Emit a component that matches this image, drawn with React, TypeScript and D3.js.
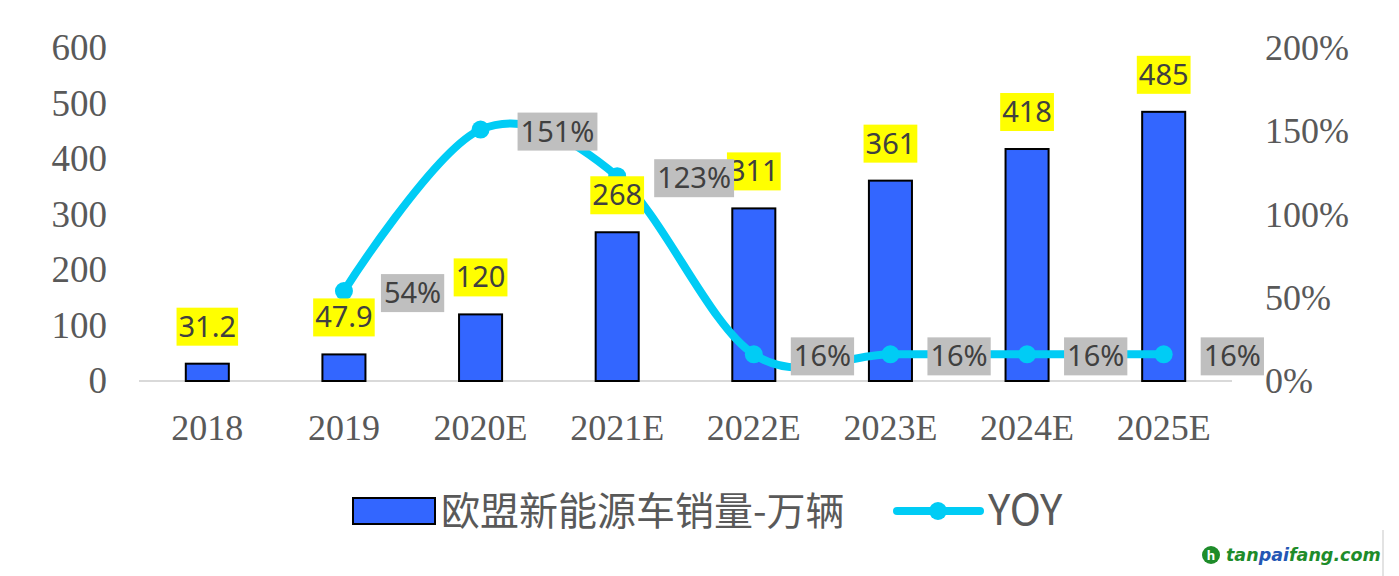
import React, { useEffect, useRef } from 'react';
import * as d3 from 'd3';

const categories = ['2018', '2019', '2020E', '2021E', '2022E', '2023E', '2024E', '2025E'];
const sales = [31.2, 47.9, 120, 268, 311, 361, 418, 485];
const salesLabels = ['31.2', '47.9', '120', '268', '311', '361', '418', '485'];
const yoy: (number | null)[] = [null, 0.54, 1.51, 1.23, 0.16, 0.16, 0.16, 0.16];
const leftTicks = [0, 100, 200, 300, 400, 500, 600];
const rightTicks = [0, 0.5, 1, 1.5, 2];
const legendBarName = '欧盟新能源车销量-万辆';
const legendLineName = 'YOY';

const W = 1399;
const H = 576;
const BAR = '#3366FF';
const LINE = '#00CCF5';
const AXIS_TXT = '#595959';
const LBL_TXT = '#404040';
const SERIF = '"Liberation Serif", "Times New Roman", serif';
const SANS = '"Noto Sans", "Open Sans", sans-serif';
const CJK = '"Noto Sans CJK SC", "Noto Sans", sans-serif';

export default function App() {
  const ref = useRef<SVGSVGElement>(null);

  useEffect(() => {
    const svg = d3.select(ref.current);
    svg.selectAll('*').remove();

    const x = d3.scalePoint<string>().domain(categories).range([139, 1232]).padding(0.5);
    const step = x.step();
    const bw = step * 0.315;
    const yL = d3.scaleLinear().domain([0, 600]).range([381, 48]);
    const yR = d3.scaleLinear().domain([0, 2]).range([381, 48]);

    // axis line
    svg.append('line')
      .attr('x1', 139).attr('x2', 1232)
      .attr('y1', yL(0)).attr('y2', yL(0))
      .attr('stroke', '#D9D9D9').attr('stroke-width', 2);

    // left ticks
    svg.append('g').selectAll('text').data(leftTicks).join('text')
      .attr('x', 107).attr('y', d => yL(d) + 12)
      .attr('text-anchor', 'end')
      .attr('font-family', SERIF).attr('font-size', 37).attr('fill', AXIS_TXT)
      .text(d => String(d));

    // right ticks
    svg.append('g').selectAll('text').data(rightTicks).join('text')
      .attr('x', 1265).attr('y', d => yR(d) + 12)
      .attr('text-anchor', 'start')
      .attr('font-family', SERIF).attr('font-size', 36).attr('fill', AXIS_TXT)
      .text(d => d3.format('.0%')(d));

    // x labels
    svg.append('g').selectAll('text').data(categories).join('text')
      .attr('x', d => x(d)!).attr('y', 440)
      .attr('text-anchor', 'middle')
      .attr('font-family', SERIF).attr('font-size', 36).attr('fill', AXIS_TXT)
      .text(d => d);

    // bars
    svg.append('g').selectAll('rect').data(sales).join('rect')
      .attr('x', (d, i) => x(categories[i])! - bw / 2)
      .attr('y', d => yL(d))
      .attr('width', bw)
      .attr('height', d => yL(0) - yL(d))
      .attr('fill', BAR).attr('stroke', '#000').attr('stroke-width', 2);

    // line
    const pts = yoy.map((v, i) => ({ v, c: categories[i] })).filter(p => p.v !== null) as { v: number; c: string }[];
    const line = d3.line<{ v: number; c: string }>()
      .x(p => x(p.c)!)
      .y(p => yR(p.v))
      .curve(d3.curveCardinal.tension(0));
    svg.append('path').datum(pts)
      .attr('d', line)
      .attr('fill', 'none').attr('stroke', LINE).attr('stroke-width', 8)
      .attr('stroke-linejoin', 'round').attr('stroke-linecap', 'round');
    svg.append('g').selectAll('circle').data(pts).join('circle')
      .attr('cx', p => x(p.c)!).attr('cy', p => yR(p.v)).attr('r', 9)
      .attr('fill', LINE);

    // bar labels
    const bl = svg.append('g');
    sales.forEach((v, i) => {
      const cx = x(categories[i])!;
      const cy = yL(v) - 37;
      const g = bl.append('g');
      const r = g.append('rect');
      const t = g.append('text')
        .attr('x', cx).attr('y', cy + 10)
        .attr('text-anchor', 'middle')
        .attr('font-family', SANS).attr('font-size', 29).attr('fill', LBL_TXT)
        .text(salesLabels[i]);
      const w = (t.node() as SVGTextElement).getComputedTextLength() + 4;
      r.attr('x', cx - w / 2).attr('y', cy - 19).attr('width', w).attr('height', 38).attr('fill', '#FFFF00');
    });

    // yoy labels
    const yl = svg.append('g');
    pts.forEach(p => {
      const left = x(p.c)! + 37;
      const cy = yR(p.v) + 2;
      const g = yl.append('g');
      const r = g.append('rect');
      const t = g.append('text')
        .attr('x', left + 3).attr('y', cy + 10)
        .attr('font-family', SANS).attr('font-size', 29).attr('fill', LBL_TXT)
        .text(d3.format('.0%')(p.v));
      const w = (t.node() as SVGTextElement).getComputedTextLength() + 6;
      r.attr('x', left).attr('y', cy - 19).attr('width', w).attr('height', 38).attr('fill', '#BFBFBF');
    });

    // legend
    const lg = svg.append('g');
    lg.append('rect').attr('x', 353).attr('y', 498).attr('width', 82).attr('height', 26)
      .attr('fill', BAR).attr('stroke', '#000').attr('stroke-width', 2);
    lg.append('text').attr('x', 441).attr('y', 525)
      .attr('font-family', CJK).attr('font-size', 39).attr('fill', AXIS_TXT)
      .text(legendBarName);
    lg.append('line').attr('x1', 897).attr('x2', 980).attr('y1', 511).attr('y2', 511)
      .attr('stroke', LINE).attr('stroke-width', 8).attr('stroke-linecap', 'round');
    lg.append('circle').attr('cx', 938).attr('cy', 511).attr('r', 9).attr('fill', LINE);
    lg.append('text').attr('x', 988).attr('y', 525)
      .attr('font-family', CJK).attr('font-size', 42).attr('fill', AXIS_TXT)
      .text(legendLineName);

    // right-edge faint border
    svg.append('line').attr('x1', 1383).attr('x2', 1383).attr('y1', 530).attr('y2', H)
      .attr('stroke', '#E3E3E3').attr('stroke-width', 2);

    // watermark
    const wm = svg.append('g');
    wm.append('circle').attr('cx', 1211).attr('cy', 555).attr('r', 9).attr('fill', '#1E8C2A');
    wm.append('text').attr('x', 1211).attr('y', 560).attr('text-anchor', 'middle')
      .attr('font-family', SANS).attr('font-weight', 'bold').attr('font-size', 13).attr('fill', '#fff')
      .text('h');
    const wt = wm.append('text').attr('x', 1226).attr('y', 561)
      .attr('font-family', '"DejaVu Sans", sans-serif').attr('font-weight', 'bold')
      .attr('font-style', 'italic').attr('font-size', 17.5);
    wt.append('tspan').attr('fill', '#1E8C2A').text('tan');
    wt.append('tspan').attr('fill', '#2456B4').text('pai');
    wt.append('tspan').attr('fill', '#1E8C2A').text('fang.com');
  }, []);

  return (
    <svg
      ref={ref}
      width={W}
      height={H}
      style={{ position: 'absolute', left: 0, top: 0, background: '#fff' }}
    />
  );
}
